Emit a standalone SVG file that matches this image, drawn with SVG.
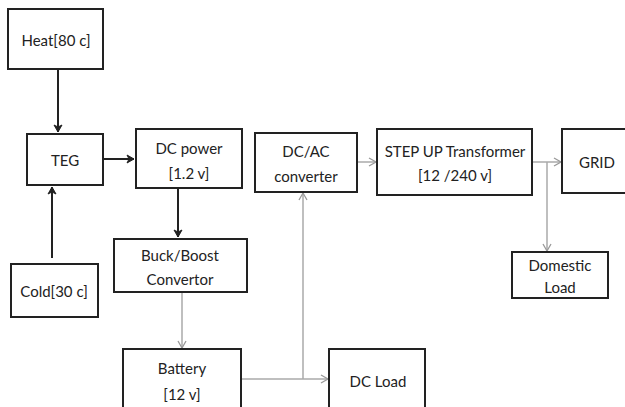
<svg xmlns="http://www.w3.org/2000/svg" width="625" height="407" viewBox="0 0 625 407">
<defs>
<marker id="ab" markerWidth="10" markerHeight="10" refX="8" refY="5" orient="auto" markerUnits="userSpaceOnUse">
<path d="M1,1 L8,5 L1,9 L3,5 Z" fill="#222" stroke="#222" stroke-width="1"/>
</marker>
<marker id="ag" markerWidth="10" markerHeight="10" refX="8" refY="5" orient="auto" markerUnits="userSpaceOnUse">
<path d="M1,1 L8,5 L1,9" fill="none" stroke="#999" stroke-width="1.3"/>
</marker>
<style>
.box{fill:#fff;stroke:#222;stroke-width:2}
.t{font-family:Lato,"Open Sans","Liberation Sans",sans-serif;font-size:15px;fill:#222;text-anchor:middle;dominant-baseline:central}
.bk{stroke:#222;stroke-width:2;fill:none}
.gy{stroke:#aaa;stroke-width:1.5;fill:none}
</style>
</defs>
<rect width="625" height="407" fill="#fff"/>
<g id="connectors">
<line class="bk" x1="58" y1="69" x2="58" y2="132" marker-end="url(#ab)"/>
<line class="bk" x1="103" y1="159" x2="134" y2="159" marker-end="url(#ab)"/>
<line class="bk" x1="178" y1="188" x2="178" y2="237" marker-end="url(#ab)"/>
<line class="bk" x1="52" y1="258" x2="52" y2="187" marker-end="url(#ab)"/>
<line class="gy" x1="182" y1="292" x2="182" y2="348" marker-end="url(#ag)"/>
<line class="gy" x1="241" y1="379" x2="328" y2="379" marker-end="url(#ag)"/>
<line class="gy" x1="303" y1="379" x2="303" y2="193" marker-end="url(#ag)"/>
<line class="gy" x1="357" y1="162" x2="376" y2="162" marker-end="url(#ag)"/>
<line class="gy" x1="532" y1="162" x2="561" y2="162" marker-end="url(#ag)"/>
<line class="gy" x1="547" y1="162" x2="547" y2="251" marker-end="url(#ag)"/>
</g>
<g id="heat"><rect class="box" x="8" y="9" width="95" height="60"/><text class="t" x="56" y="40">Heat[80 c]</text></g>
<g id="teg"><rect class="box" x="27" y="134" width="76" height="51"/><text class="t" x="65" y="160">TEG</text></g>
<g id="dcpower"><rect class="box" x="136" y="129" width="106" height="59"/><text class="t" x="189" y="148">DC power</text><text class="t" x="189" y="173">[1.2 v]</text></g>
<g id="cold"><rect class="box" x="11" y="264" width="87" height="53"/><text class="t" x="54" y="291">Cold[30 c]</text></g>
<g id="buckboost"><rect class="box" x="114" y="239" width="133" height="53"/><text class="t" x="180" y="255">Buck/Boost</text><text class="t" x="180" y="279">Convertor</text></g>
<g id="battery"><rect class="box" x="123" y="349" width="118" height="70"/><text class="t" x="182" y="368">Battery</text><text class="t" x="182" y="394">[12 v]</text></g>
<g id="dcload"><rect class="box" x="329" y="349" width="96" height="70"/><text class="t" x="378" y="381">DC Load</text></g>
<g id="dcac"><rect class="box" x="255" y="133" width="102" height="59"/><text class="t" x="306" y="151">DC/AC</text><text class="t" x="306" y="176">converter</text></g>
<g id="stepup"><rect class="box" x="377" y="129" width="155" height="66"/><text class="t" x="455" y="151">STEP UP Transformer</text><text class="t" x="455" y="175">[12 /240 v]</text></g>
<g id="grid"><rect class="box" x="562" y="129" width="70" height="64"/><text class="t" x="597" y="162">GRID</text></g>
<g id="domestic"><rect class="box" x="512" y="252" width="96" height="46"/><text class="t" x="560" y="265">Domestic</text><text class="t" x="560" y="287">Load</text></g>
</svg>
